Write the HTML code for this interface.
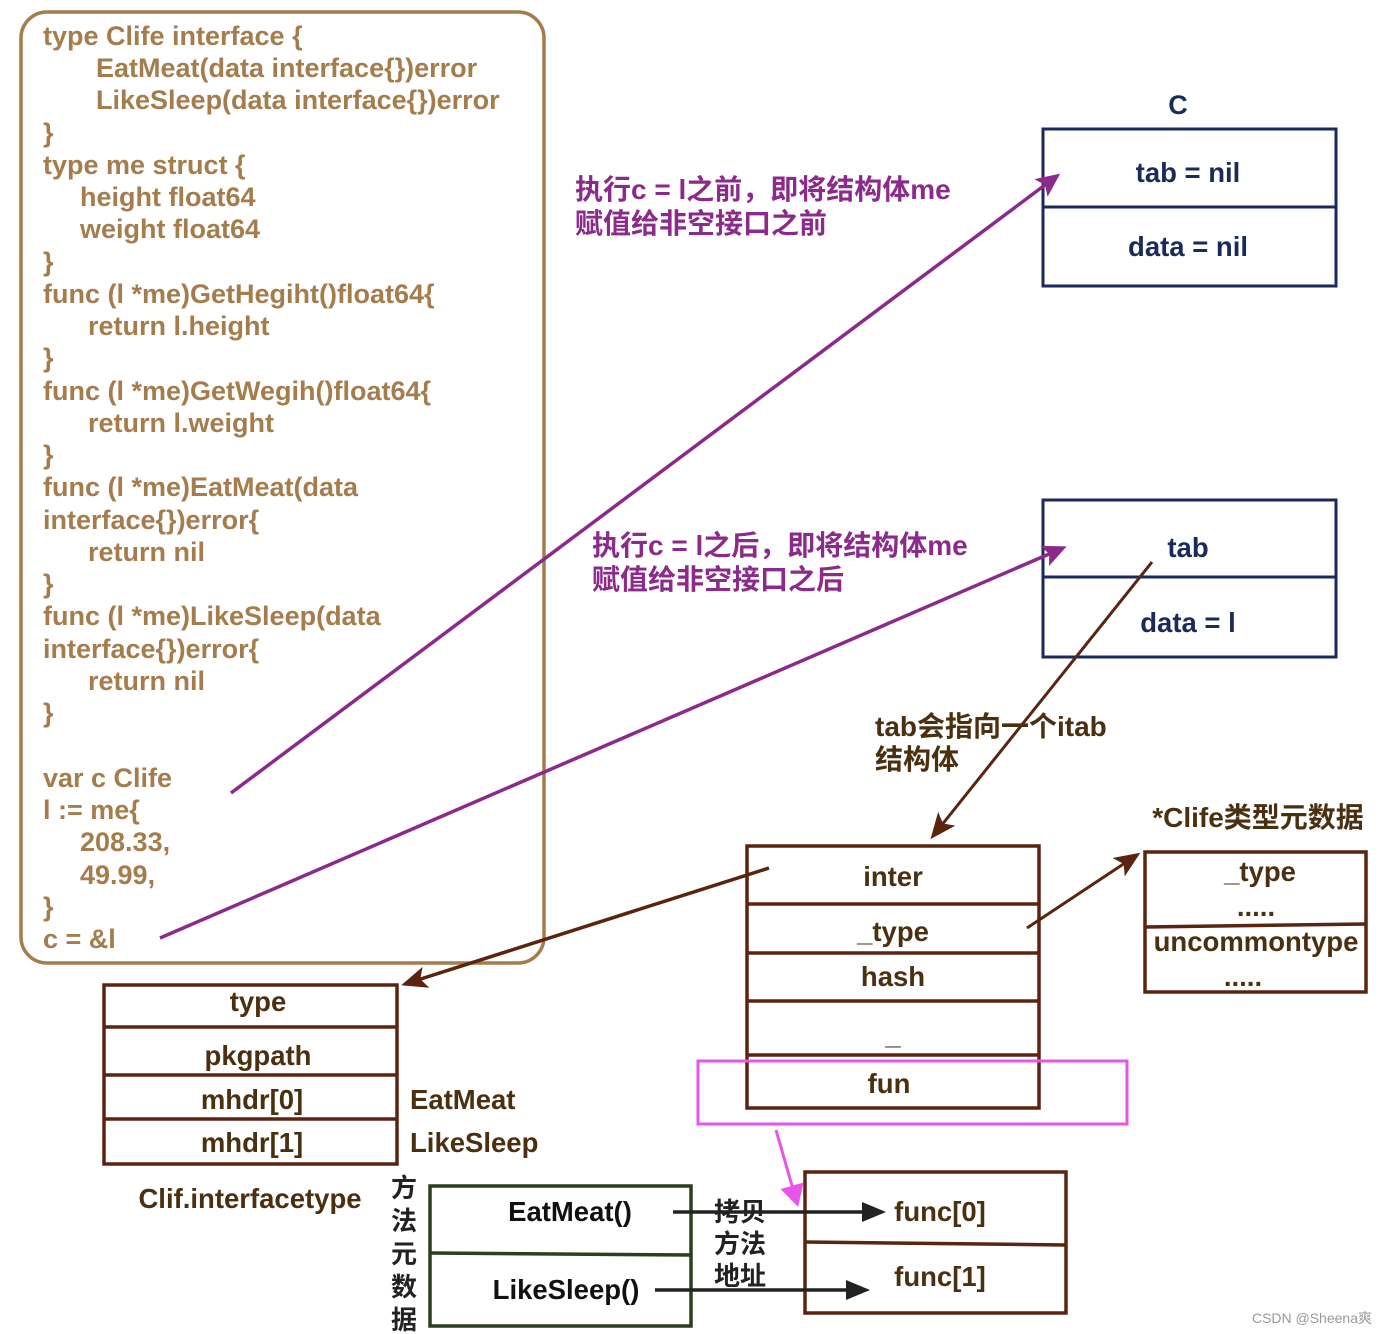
<!DOCTYPE html>
<html><head><meta charset="utf-8"><style>
html,body{margin:0;padding:0;background:#fff;}
svg{display:block;}
text{font-family:"Liberation Sans","Noto Sans CJK SC",sans-serif;font-weight:bold;}
text.n{font-weight:normal;}
</style></head><body>
<svg width="1388" height="1334" viewBox="0 0 1388 1334" xmlns="http://www.w3.org/2000/svg">
<defs>
<marker id="ab" markerWidth="26" markerHeight="22" refX="22" refY="11" orient="auto" markerUnits="userSpaceOnUse"><path d="M0,0 L26,11 L0,22 L6,11 z" fill="#5a2410"/></marker>
<marker id="ak" markerWidth="24" markerHeight="20" refX="20" refY="10" orient="auto" markerUnits="userSpaceOnUse"><path d="M0,0 L24,10 L0,20 z" fill="#222"/></marker>
<marker id="am" markerWidth="22" markerHeight="24" refX="18" refY="12" orient="auto" markerUnits="userSpaceOnUse"><path d="M0,0 L22,12 L0,24 z" fill="#e855e8"/></marker>
<marker id="apb" markerWidth="24" markerHeight="22" refX="20" refY="11" orient="auto" markerUnits="userSpaceOnUse"><path d="M0,0 L24,11 L0,22 L5,11 z" fill="#8b2a8b"/></marker>
</defs>

<rect x="21" y="12" width="523" height="951" rx="26" fill="none" stroke="#a57c4c" stroke-width="3.5"/>
<g fill="#a57c4c" font-size="27">
<text x="43" y="45">type Clife interface {</text>
<text x="96" y="77">EatMeat(data interface{})error</text>
<text x="96" y="109">LikeSleep(data interface{})error</text>
<text x="43" y="142">}</text>
<text x="43" y="174">type me struct {</text>
<text x="80" y="206">height float64</text>
<text x="80" y="238">weight float64</text>
<text x="43" y="271">}</text>
<text x="43" y="303">func (l *me)GetHegiht()float64{</text>
<text x="88" y="335">return l.height</text>
<text x="43" y="367">}</text>
<text x="43" y="400">func (l *me)GetWegih()float64{</text>
<text x="88" y="432">return l.weight</text>
<text x="43" y="464">}</text>
<text x="43" y="496">func (l *me)EatMeat(data</text>
<text x="43" y="529">interface{})error{</text>
<text x="88" y="561">return nil</text>
<text x="43" y="593">}</text>
<text x="43" y="625">func (l *me)LikeSleep(data</text>
<text x="43" y="658">interface{})error{</text>
<text x="88" y="690">return nil</text>
<text x="43" y="722">}</text>
<text x="43" y="787">var c Clife</text>
<text x="43" y="819">l := me{</text>
<text x="80" y="851">208.33,</text>
<text x="80" y="884">49.99,</text>
<text x="43" y="916">}</text>
<text x="43" y="948">c = &amp;l</text>
</g>

<text x="1178" y="114" font-size="27" fill="#1a2a5a" text-anchor="middle">C</text>
<rect x="1043" y="129" width="293" height="157" fill="none" stroke="#1a2a5a" stroke-width="3"/>
<line x1="1043" y1="207" x2="1336" y2="207" stroke="#1a2a5a" stroke-width="3"/>
<text x="1188" y="182" font-size="27.5" fill="#1a2a5a" text-anchor="middle">tab = nil</text>
<text x="1188" y="256" font-size="27.5" fill="#1a2a5a" text-anchor="middle">data = nil</text>

<rect x="1043" y="500" width="293" height="157" fill="none" stroke="#1a2a5a" stroke-width="3"/>
<line x1="1043" y1="577" x2="1336" y2="577" stroke="#1a2a5a" stroke-width="3"/>
<text x="1188" y="557" font-size="27.5" fill="#1a2a5a" text-anchor="middle">tab</text>
<text x="1188" y="632" font-size="27.5" fill="#1a2a5a" text-anchor="middle">data = l</text>

<g fill="#8b2a8b" font-size="28">
<text x="575" y="199">执行c = l之前，即将结构体me</text>
<text x="575" y="233">赋值给非空接口之前</text>
<text x="592" y="555">执行c = l之后，即将结构体me</text>
<text x="592" y="589">赋值给非空接口之后</text>
</g>
<line x1="231" y1="793" x2="1057" y2="176" stroke="#8b2a8b" stroke-width="3.5" marker-end="url(#apb)"/>
<line x1="160" y1="938" x2="1063" y2="548" stroke="#8b2a8b" stroke-width="3.5" marker-end="url(#apb)"/>

<line x1="1152" y1="562" x2="933" y2="836" stroke="#5a2410" stroke-width="3" marker-end="url(#ab)"/>
<text x="875" y="736" font-size="28" fill="#4a3010">tab会指向一个itab</text>
<text x="875" y="769" font-size="28" fill="#4a3010">结构体</text>

<g stroke="#5a2410" stroke-width="3.5" fill="none">
<rect x="747" y="846" width="292" height="262"/>
<line x1="747" y1="904" x2="1039" y2="904"/>
<line x1="747" y1="953" x2="1039" y2="953"/>
<line x1="747" y1="1001" x2="1039" y2="1001"/>
<line x1="747" y1="1055" x2="1039" y2="1055"/>
</g>
<g fill="#4a3010" font-size="27.5" text-anchor="middle">
<text x="893" y="886">inter</text>
<text x="893" y="941">_type</text>
<text x="893" y="986">hash</text>
<text x="893" y="1044">_</text>
<text x="889" y="1093">fun</text>
</g>
<rect x="698" y="1061" width="429" height="63" fill="none" stroke="#e855e8" stroke-width="3"/>

<line x1="769" y1="868" x2="405" y2="984" stroke="#5a2410" stroke-width="3.5" marker-end="url(#ab)"/>
<line x1="1027" y1="928" x2="1137" y2="855" stroke="#5a2410" stroke-width="3" marker-end="url(#ab)"/>

<text x="1258" y="827" font-size="28" fill="#4a3010" text-anchor="middle">*Clife类型元数据</text>
<g stroke="#5a2410" stroke-width="3.5" fill="none">
<rect x="1145" y="852" width="221" height="140"/>
<line x1="1145" y1="927" x2="1366" y2="924"/>
</g>
<g fill="#4a3010" font-size="27.5" text-anchor="middle">
<text x="1260" y="881">_type</text>
<text x="1256" y="916">.....</text>
<text x="1256" y="951">uncommontype</text>
<text x="1243" y="986">.....</text>
</g>

<g stroke="#5a2410" stroke-width="3.5" fill="none">
<rect x="104" y="985" width="293" height="179"/>
<line x1="104" y1="1027" x2="397" y2="1027"/>
<line x1="104" y1="1075" x2="397" y2="1075"/>
<line x1="104" y1="1119" x2="397" y2="1119"/>
</g>
<g fill="#4a3010" font-size="27.5" text-anchor="middle">
<text x="258" y="1011">type</text>
<text x="258" y="1065">pkgpath</text>
<text x="252" y="1109">mhdr[0]</text>
<text x="252" y="1152">mhdr[1]</text>
<text x="250" y="1208">Clif.interfacetype</text>
</g>
<text x="410" y="1109" font-size="27.5" fill="#4a3010">EatMeat</text>
<text x="410" y="1152" font-size="27.5" fill="#4a3010">LikeSleep</text>

<g fill="#222" font-size="26" text-anchor="middle">
<text x="404" y="1197">方</text>
<text x="404" y="1230">法</text>
<text x="404" y="1263">元</text>
<text x="404" y="1296">数</text>
<text x="404" y="1329">据</text>
</g>

<g stroke="#2a3f1a" stroke-width="3.5" fill="none">
<rect x="430" y="1186" width="261" height="140"/>
<line x1="430" y1="1253" x2="691" y2="1255"/>
</g>
<text x="570" y="1221" font-size="27.5" fill="#111" text-anchor="middle">EatMeat()</text>
<text x="566" y="1299" font-size="27.5" fill="#111" text-anchor="middle">LikeSleep()</text>

<g stroke="#5a2410" stroke-width="3.5" fill="none">
<rect x="805" y="1172" width="261" height="141"/>
<line x1="805" y1="1242" x2="1066" y2="1245"/>
</g>
<text x="940" y="1221" font-size="27.5" fill="#4a3010" text-anchor="middle">func[0]</text>
<text x="940" y="1286" font-size="27.5" fill="#4a3010" text-anchor="middle">func[1]</text>

<g fill="#222" font-size="26">
<text x="714" y="1221">拷贝</text>
<text x="714" y="1253">方法</text>
<text x="714" y="1285">地址</text>
</g>
<line x1="673" y1="1212" x2="882" y2="1212" stroke="#222" stroke-width="3.5" marker-end="url(#ak)"/>
<line x1="655" y1="1290" x2="866" y2="1290" stroke="#222" stroke-width="3.5" marker-end="url(#ak)"/>
<line x1="776" y1="1130" x2="797" y2="1203" stroke="#e855e8" stroke-width="3" marker-end="url(#am)"/>

<text class="n" x="1372" y="1323" font-size="14" fill="#999" text-anchor="end">CSDN @Sheena爽</text>
</svg>
</body></html>
